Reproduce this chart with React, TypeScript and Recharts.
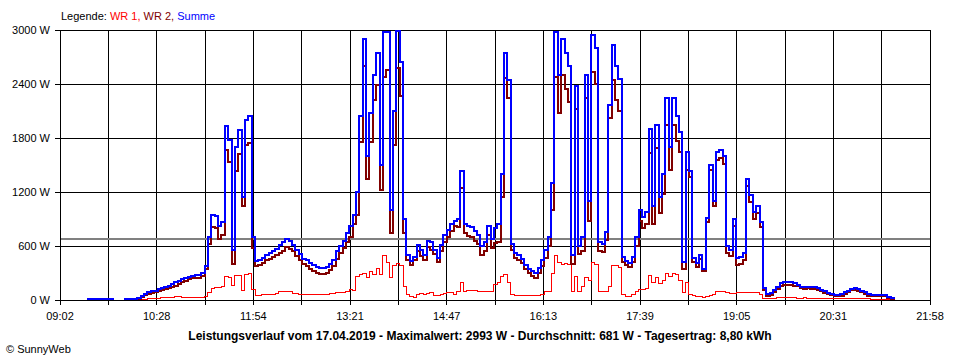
import { LineChart, Line, XAxis, YAxis, CartesianGrid, ReferenceLine } from 'recharts';

// sampling: every 3 minutes starting at 09:26 (minutes since midnight)
const START_MINUTE = 566;
const STEP_MINUTES = 3;

const xTickLabels = ['09:02', '10:28', '11:54', '13:21', '14:47', '16:13', '17:39', '19:05', '20:31', '21:58'];
const yTicks = [0, 600, 1200, 1800, 2400, 3000];
const averageW = 681;

// Summe (blue)
const summeValues: (number | null)[] = [
  10, 10, 10, 10, 10, 10, 10, 10, 10, null,
  null, 10, 10, 10, 15, 20, 40, 70, 85, 95,
  105, 125, 135, 145, 160, 180, 200, 215, 230, 245,
  260, 270, 275, 280, 295, 380, 700, 940, 930, 820,
  870, 1930, 1780, 560, 1700, 1890, 1150, 2000, 2040, 700,
  430, 445, 470, 500, 520, 540, 570, 610, 640, 680,
  660, 610, 560, 510, 460, 440, 410, 390, 370, 355,
  355, 370, 400, 450, 540, 600, 660, 740, 820, 950,
  1200, 2040, 2900, 1600, 2080, 2500, 2740, 1500, 2980, 2980,
  1000, 2100, 2993, 2650, 900, 500, 430, 480, 610, 560,
  500, 660, 640, 560, 470, 610, 720, 780, 850, 880,
  900, 1430, 840, 820, 810, 770, 720, 600, 650, 820,
  680, 800, 850, 1400, 2750, 2450, 620, 520, 500, 460,
  390, 350, 320, 300, 360, 440, 560, 700, 1300, 2980,
  2500, 2900, 2750, 2600, 500, 2380, 600, 700, 2500, 1100,
  2950, 2800, 650, 620, 760, 2170, 2830, 2600, 2460, 480,
  430, 410, 480, 700, 1000, 920, 980, 1900, 1050, 1940,
  1150, 1400, 2240, 1700, 2240, 2050, 1870, 420, 1650, 1430,
  470, 410, 500, 350, 910, 1500, 1100, 1650, 1670, 1600,
  600, 560, 900, 470, 480, 520, 1350, 1170, 980, 1050,
  870, 130, 70, 80, 110, 150, 185, 195, 195, 195,
  190, 170, 150, 150, 150, 145, 140, 130, 110, 95,
  80, 70, 60, 60, 65, 85, 105, 125, 130, 120,
  105, 85, 65, 55, 55, 55, 55, 55, 35, 20,
  10,
];

// WR 1 (red)
const wr1Values: (number | null)[] = [
  null, null, null, null, null, null, null, null, null, null,
  null, null, null, null, null, 5, 5, 10, 15, 15,
  20, 20, 25, 25, 25, 30, 40, 40, 30, 30,
  30, 30, 30, 30, 30, 35, 80, 130, 135, 140,
  150, 260, 250, 160, 270, 270, 110, 280, 300, 120,
  55, 55, 60, 60, 60, 60, 70, 90, 90, 90,
  90, 70, 70, 65, 60, 65, 65, 65, 65, 65,
  65, 65, 70, 75, 80, 80, 85, 90, 120, 110,
  260, 280, 300, 250, 320, 280, 350, 280, 500, 420,
  250, 380, 410, 380, 150, 60, 40, 30, 60, 70,
  60, 70, 80, 50, 50, 60, 70, 80, 80, 60,
  90, 190, 100, 110, 110, 110, 100, 100, 100, 100,
  100, 170, 200, 260, 280, 200, 60, 55, 55, 50,
  50, 50, 50, 50, 55, 60, 90, 100, 300, 500,
  420, 400, 410, 400, 100, 260, 90, 150, 250, 220,
  420, 400, 100, 90, 90, 150, 380, 380, 360, 60,
  40, 40, 60, 100, 120, 120, 130, 270, 200, 250,
  180, 220, 300, 260, 300, 280, 220, 80, 200, 60,
  50, 40, 40, 30, 40, 50, 60, 90, 90, 90,
  80, 75, 75, 80, 80, 80, 80, 80, 80, 80,
  60, 20, 20, 20, 20, 30, 30, 30, 30, 30,
  30, 15, 15, 25, 20, 20, 15, 15, 15, 15,
  15, 15, 15, 15, 15, 15, 15, 15, 15, 15,
  15, 15, 15, 10, 10, 10, 10, 10, 10, 5,
  5,
];

// WR 2 (dark red)
const wr2Values: (number | null)[] = [
  10, 10, 10, 10, 10, 10, 10, 10, 10, null,
  null, 10, 10, 10, 15, 15, 35, 60, 70, 80,
  85, 105, 110, 120, 135, 150, 160, 175, 200, 215,
  230, 240, 245, 250, 265, 345, 620, 810, 795, 680,
  720, 1670, 1530, 400, 1430, 1620, 1040, 1720, 1740, 580,
  375, 390, 410, 440, 460, 480, 500, 520, 550, 590,
  570, 540, 490, 445, 400, 375, 345, 325, 305, 290,
  290, 305, 330, 375, 460, 520, 575, 650, 700, 840,
  940, 1760, 2600, 1350, 1760, 2220, 2390, 1220, 2480, 2560,
  750, 1720, 2583, 2270, 750, 440, 390, 450, 550, 490,
  440, 590, 560, 510, 420, 550, 650, 700, 770, 820,
  810, 1240, 740, 710, 700, 660, 620, 500, 550, 720,
  580, 630, 650, 1140, 2470, 2250, 560, 465, 445, 410,
  340, 300, 270, 250, 305, 380, 470, 600, 1000, 2480,
  2080, 2500, 2340, 2200, 400, 2120, 510, 550, 2250, 880,
  2530, 2400, 550, 530, 670, 2020, 2450, 2220, 2100, 420,
  390, 370, 420, 600, 880, 800, 850, 1630, 850, 1690,
  970, 1180, 1940, 1440, 1940, 1770, 1650, 340, 1450, 1370,
  420, 370, 460, 320, 870, 1450, 1040, 1560, 1580, 1510,
  520, 485, 825, 390, 400, 440, 1270, 1090, 900, 970,
  810, 110, 50, 60, 90, 120, 155, 165, 165, 165,
  160, 155, 135, 125, 130, 125, 125, 115, 95, 80,
  65, 55, 45, 45, 50, 70, 90, 110, 115, 105,
  90, 70, 50, 45, 45, 45, 45, 45, 25, 15,
  5,
];

const X_MIN = 542;
const X_MAX = 1318;
const xGridTicks = Array.from({ length: 19 }, (_, k) => X_MIN + (k * (X_MAX - X_MIN)) / 18);

const chartData = summeValues.map((s, i) => ({
  t: START_MINUTE + i * STEP_MINUTES,
  summe: s,
  wr1: wr1Values[i],
  wr2: wr2Values[i],
}));

const formatXTick = (v: number) => {
  const k = Math.round((v - X_MIN) / ((X_MAX - X_MIN) / 18));
  return k % 2 === 0 ? xTickLabels[k / 2] : '';
};

const font = '"Liberation Sans", Arial, sans-serif';

export default function App() {
  return (
    <div style={{ position: 'relative', width: 960, height: 360, background: '#fff', fontFamily: font }}>
      <style>{`body{margin:0} svg .recharts-cartesian-grid line, svg .recharts-cartesian-axis line, svg .recharts-curve, svg .recharts-reference-line line {shape-rendering: crispEdges;}`}</style>
      <LineChart
        width={960}
        height={360}
        data={chartData}
        margin={{ top: 30, right: 30, left: 0, bottom: 0 }}
      >
        <CartesianGrid stroke="#000" strokeWidth={1} />
        <XAxis
          dataKey="t"
          type="number"
          domain={[X_MIN, X_MAX]}
          ticks={xGridTicks}
          interval={0}
          allowDataOverflow
          height={60}
          tickSize={5}
          tickMargin={7}
          tickFormatter={formatXTick}
          axisLine={{ stroke: '#000' }}
          tickLine={{ stroke: '#000' }}
          tick={{ fill: '#000', fontSize: 11, fontFamily: font }}
        />
        <YAxis
          type="number"
          domain={[0, 3000]}
          ticks={yTicks}
          interval={0}
          allowDataOverflow
          width={60}
          tickSize={5}
          tickMargin={5}
          tickFormatter={(v: number) => `${v} W`}
          axisLine={{ stroke: '#000' }}
          tickLine={{ stroke: '#000' }}
          tick={{ fill: '#000', fontSize: 11, fontFamily: font }}
        />
        <ReferenceLine y={averageW} stroke="#808080" strokeWidth={2} />
        <Line
          type="stepAfter"
          dataKey="wr1"
          stroke="#ff0000"
          strokeWidth={1}
          dot={false}
          isAnimationActive={false}
        />
        <Line
          type="stepAfter"
          dataKey="wr2"
          stroke="#800000"
          strokeWidth={2}
          dot={false}
          isAnimationActive={false}
        />
        <Line
          type="stepAfter"
          dataKey="summe"
          stroke="#0000ff"
          strokeWidth={2}
          dot={false}
          isAnimationActive={false}
        />
      </LineChart>
      <div style={{ position: 'absolute', left: 61, top: 10, fontSize: 11, lineHeight: '13px', whiteSpace: 'nowrap' }}>
        <span style={{ color: '#000' }}>Legende: </span>
        <span style={{ color: '#ff0000' }}>WR 1, </span>
        <span style={{ color: '#800000' }}>WR 2, </span>
        <span style={{ color: '#0000ff' }}>Summe</span>
      </div>
      <div
        style={{
          position: 'absolute',
          left: 0,
          width: 960,
          top: 330,
          textAlign: 'center',
          fontSize: 12,
          fontWeight: 'bold',
          lineHeight: '13px',
          whiteSpace: 'nowrap',
        }}
      >
        Leistungsverlauf vom 17.04.2019 - Maximalwert: 2993 W - Durchschnitt: 681 W - Tagesertrag: 8,80 kWh
      </div>
      <div style={{ position: 'absolute', left: 6, top: 343, fontSize: 11, lineHeight: '13px', whiteSpace: 'nowrap' }}>
        © SunnyWeb
      </div>
    </div>
  );
}
